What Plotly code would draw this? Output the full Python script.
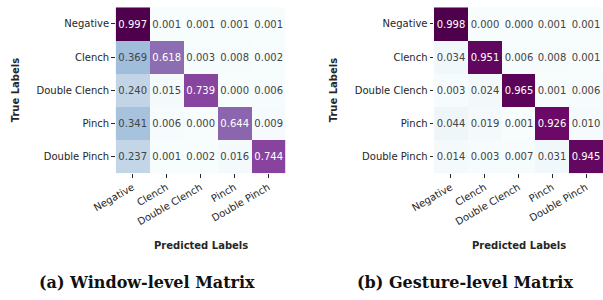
import plotly.graph_objects as go

labels = ["Negative", "Clench", "Double Clench", "Pinch", "Double Pinch"]

window_matrix = [
    [0.997, 0.001, 0.001, 0.001, 0.001],
    [0.369, 0.618, 0.003, 0.008, 0.002],
    [0.240, 0.015, 0.739, 0.000, 0.006],
    [0.341, 0.006, 0.000, 0.644, 0.009],
    [0.237, 0.001, 0.002, 0.016, 0.744],
]

gesture_matrix = [
    [0.998, 0.000, 0.000, 0.001, 0.001],
    [0.034, 0.951, 0.006, 0.008, 0.001],
    [0.003, 0.024, 0.965, 0.001, 0.006],
    [0.044, 0.019, 0.001, 0.926, 0.010],
    [0.014, 0.003, 0.007, 0.031, 0.945],
]

captions = ["(a) Window-level Matrix", "(b) Gesture-level Matrix"]

W, H = 603, 300
TXT = "#262626"

fig = go.Figure()

panels = [
    dict(mat=window_matrix, x0=115.7, x1=285.3, xa="x", ya="y", cap_x=146.5, ylab_x=15),
    dict(mat=gesture_matrix, x0=434.0, x1=603.0, xa="x2", ya="y2", cap_x=465.0, ylab_x=333),
]
y_top, y_bot = 7.3, 173.3

for i, p in enumerate(panels):
    fig.add_trace(go.Heatmap(
        z=p["mat"], x=labels, y=labels,
        colorscale="BuPu", zmin=0, zmax=1, showscale=False,
        texttemplate="%{z:.3f}",
        textfont=dict(family="DejaVu Sans", size=10),
        xaxis=p["xa"], yaxis=p["ya"], hoverinfo="skip",
    ))
    sfx = "" if i == 0 else str(i + 1)
    fig.update_layout(**{
        "xaxis" + sfx: dict(
            domain=[p["x0"] / W, min(p["x1"] / W, 1.0)],
            anchor=p["ya"], tickangle=-30, ticks="outside", ticklen=3.5,
            tickcolor=TXT, tickwidth=0.8, showgrid=False, zeroline=False,
            showline=False, automargin=False,
            tickfont=dict(family="DejaVu Sans", size=10, color=TXT),
        ),
        "yaxis" + sfx: dict(
            domain=[1 - y_bot / H, 1 - y_top / H],
            anchor=p["xa"], autorange="reversed", ticks="outside", ticklen=3.5,
            tickcolor=TXT, tickwidth=0.8, showgrid=False, zeroline=False,
            showline=False, automargin=False,
            tickfont=dict(family="DejaVu Sans", size=10, color=TXT),
        ),
    })
    cx = (p["x0"] + p["x1"]) / 2
    fig.add_annotation(x=cx / W, y=1 - 245 / H, xref="paper", yref="paper",
                       xanchor="center", yanchor="middle",
                       text="<b>Predicted Labels</b>", showarrow=False,
                       font=dict(family="DejaVu Sans", size=10, color=TXT))
    fig.add_annotation(x=p["ylab_x"] / W, y=1 - ((y_top + y_bot) / 2) / H,
                       xref="paper", yref="paper", textangle=-90,
                       xanchor="center", yanchor="middle",
                       text="<b>True Labels</b>", showarrow=False,
                       font=dict(family="DejaVu Sans", size=10, color=TXT))
    fig.add_annotation(x=p["cap_x"] / W, y=1 - 282 / H, xref="paper", yref="paper",
                       xanchor="center", yanchor="middle",
                       text="<b>" + captions[i] + "</b>", showarrow=False,
                       font=dict(family="DejaVu Serif", size=16, color="#111111"))

fig.update_layout(
    width=W, height=H, margin=dict(l=0, r=0, t=0, b=0, autoexpand=False),
    paper_bgcolor="white", plot_bgcolor="white", showlegend=False,
)

fig.write_html("out.html", config={"displayModeBar": False},
               post_script="document.body.style.margin='0';")
